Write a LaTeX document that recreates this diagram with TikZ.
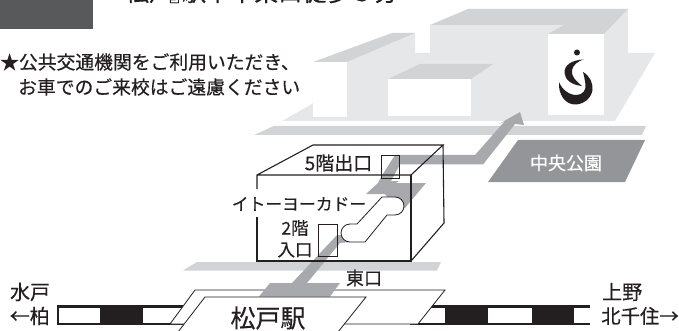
\documentclass[tikz,border=0pt]{standalone}
\usepackage{fontspec}
\setmainfont[FakeBold=0.35]{Noto Sans CJK JP}
\definecolor{ink}{HTML}{231F20}
\definecolor{plate}{HTML}{E6E7E8}
\definecolor{roof}{HTML}{D1D3D4}
\definecolor{route}{HTML}{A7A9AC}
\definecolor{park}{HTML}{939598}
\definecolor{head}{HTML}{58595B}
\tikzset{
  lab/.style={inner sep=0pt,text=ink,font=\fontsize{#1}{#1}\selectfont},
  lab/.default=18,
  cubeline/.style={draw=ink,line width=1.1pt,line join=miter},
  thinline/.style={draw=ink,line width=0.8pt,line join=miter},
}
\begin{document}
\begin{tikzpicture}[x=1pt,y=-1pt]
\useasboundingbox (0,0) rectangle (679,331);
% header
\fill[head] (0,0) rectangle (93,29);
\node[lab=24,anchor=west] (title) at (97,-8) {『\hspace{4pt}松戸\hspace{-4pt}』\hspace{-11pt}駅下車東口徒歩５分};
% notice
\node[lab=18.8,anchor=west] (note1) at (0,62) {★公共交通機関をご利用いただき、};
\node[lab=18.8,anchor=west] (note2) at (18,87) {お車でのご来校はご遠慮ください};
% campus
\fill[plate] (415,53) -- (655,53) -- (615,121) -- (282,121) -- (312,104) -- (347,62) -- (415,33) -- cycle;
\fill[plate] (430,25) -- (564,25) -- (604,34) -- (628,9) -- (628,53) -- (430,53) -- cycle;
\fill[roof] (313,62) -- (392,33) -- (415,33) -- (347,62) -- cycle;
\fill[white] (313,62) rectangle (347,117);
\fill[roof] (430,25) -- (468,9) -- (628,9) -- (604,34) -- (548,34) -- (564,25) -- cycle;
\fill[white] (548,34) rectangle (604,115);
\fill[roof] (388,79) -- (420,64) -- (493,64) -- (471,79) -- cycle;
\fill[white] (388,79) rectangle (471,116);
% logo
\fill[ink] (577,52.5) circle (3);
\fill[ink] (583.5,59.5) .. controls (572,60) and (564,65) .. (564.5,73)
  .. controls (565,80) and (572,85) .. (582,86)
  .. controls (575,80) and (571,76) .. (572,70)
  .. controls (573,65) and (578,61) .. (583.5,59.5) -- cycle;
\fill[ink] (583,72) .. controls (590,76) and (593,83) .. (592.5,90)
  .. controls (591,99) and (583,104.5) .. (575,104.5)
  .. controls (565,104.5) and (558,94) .. (559,82)
  .. controls (562,90) and (570,95.5) .. (577,95)
  .. controls (583,94.5) and (586,90) .. (585.5,85)
  .. controls (585,80) and (584,76) .. (583,72) -- cycle;
% roads and park
\fill[roof] (274,126) -- (646,126) -- (642,135) -- (254,135) -- cycle;
\fill[park] (518,140) -- (645,140) -- (625,182) -- (488,182) -- cycle;
\node[lab=18,text=white] (parklabel) at (566,163) {中央公園};
\fill[roof] (197,262) -- (441,262) -- (437,270.5) -- (183,270.5) -- cycle;
% railway
\fill[ink] (57,305) rectangle (185,325);
\fill[white] (58.5,307.5) rectangle (100,323);
\fill[white] (143,307.5) rectangle (185,323);
\fill[ink] (410,305) rectangle (590,325);
\fill[white] (410,307.5) rectangle (445,323);
\fill[white] (488,307.5) rectangle (532,323);
\fill[white] (574,307.5) rectangle (590,323);
% station
\draw[thinline,fill=white] (195,290) -- (445,290) -- (418,324) -- (170,324) -- cycle;
\fill[route] (270,283) -- (340,283) -- (330,296.5) -- (259,296.5) -- cycle;
\draw[thinline,fill=white] (205,297) -- (366,297) -- (338,332) -- (178,332) -- cycle;
% route
\fill[route] (520,112) -- (524,125) -- (515,124) -- (483,164.5) -- (400,164.5) -- (391,181) -- (399,181) -- (396,183) -- (426,183) -- (405,208) -- (395,208) -- (385,194) -- (366,194) -- (378,183) -- (381,177) -- (395,155) -- (475,155) -- (505,121) -- (499,124) -- cycle;
\fill[route] (292,283) -- (337,235) -- (350,235) -- (350,242) -- (340,243) -- (307,283) -- cycle;
% store cube
\draw[cubeline] (257,189) -- (257,175) -- (313,145) -- (443,145) -- (411,175) -- (257,175);
\draw[cubeline] (257,217) -- (257,261) -- (411,261) -- (411,175);
\draw[cubeline] (443,145) -- (444,223) -- (411,261);
\draw[thinline] (381,155) rectangle (399,178);
\draw[thinline] (318,224) rectangle (337,256);
\draw[thinline,fill=white] (350,224) -- (357,224) -- (382,197) -- (395,197) arc[start angle=-90,end angle=90,radius=9] -- (387,215) -- (365,242) -- (350,242) arc[start angle=90,end angle=270,radius=9] -- cycle;
% labels
\node[lab=19] (floor5) at (338.5,163) {5階出口};
\node[lab=16.8] (store) at (299,204) {イトーヨーカドー};
\node[lab=17.5] (floor2) at (295,228) {2階};
\node[lab=17.5] (entry) at (295,250) {入口};
\node[lab=18] (east) at (364,278) {東口};
\node[lab=25] (station) at (268,318) {松戸駅};
\node[lab=20] (mito) at (30,292) {水戸};
\node[lab=20,anchor=east] (kashiwa) at (50,316) {←柏};
\node[lab=20,anchor=west] (ueno) at (602,292) {上野};
\node[lab=19.4,anchor=west] (kita) at (601,316) {北千住→};
\end{tikzpicture}
\end{document}
